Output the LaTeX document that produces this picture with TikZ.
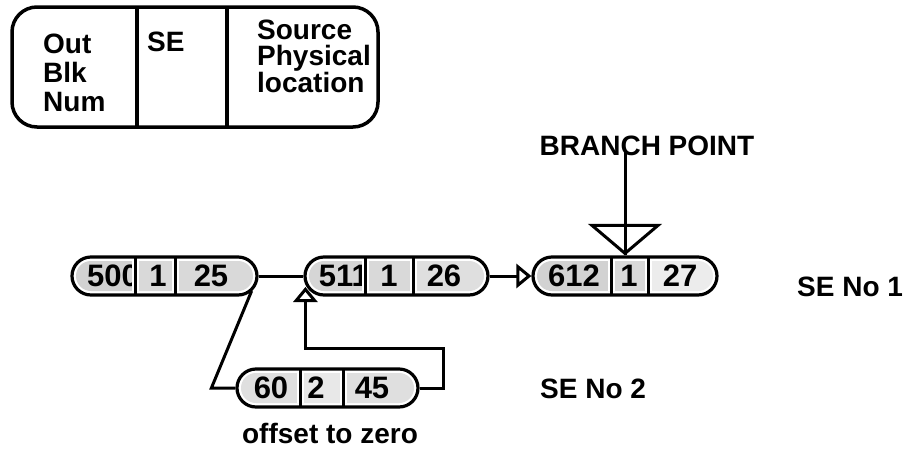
\documentclass[tikz,border=0pt]{standalone}
\usepackage{fontspec}
\setmainfont{Liberation Sans}
\usetikzlibrary{arrows.meta,shapes.misc,calc}

% capsule record: name, left x, divider 1, divider 2, right x, centre y, three cell shades
\newcommand\chaincapsule[9]{%
  \node[capsule, minimum width={#5-#2}] (#1) at ({(#2+#5)/2},#6) {};
  \begin{scope}
    \clip[rounded corners=15pt] (#2+4,#6-15) rectangle (#5-4,#6+15);
    \fill[gray!#7] (#2,#6-19) rectangle (#3,#6+19);
    \fill[gray!#8] (#3,#6-19) rectangle (#4,#6+19);
    \fill[gray!#9] (#4,#6-19) rectangle (#5,#6+19);
  \end{scope}}
% cell separator: x, centre y
\newcommand\celldivider[2]{%
  \draw[white, line width=7pt] (#1,#2-15) -- (#1,#2+15);
  \draw[line width=3pt] (#1,#2-19) -- (#1,#2+19);}

\tikzset{
  lbl/.style={font=\bfseries\fontsize{28}{29}\selectfont, inner sep=0pt},
  num/.style={font=\bfseries\fontsize{31}{32}\selectfont, inner sep=0pt},
  capsule/.style={rounded rectangle, draw, line width=3.2pt, fill=white,
                  minimum height=38pt, inner sep=0pt},
  wire/.style={line width=3pt},
  opentip/.style={-{Triangle[open,length=15pt,width=24pt]}},
}

\begin{document}
\begin{tikzpicture}[x=1pt,y=-1pt]
\useasboundingbox (0,0) rectangle (906,448);

% record layout key
\draw[line width=3.5pt, rounded corners=25pt] (12,7) rectangle (378,127);
\draw[line width=3.2pt] (137,7) -- (137,127);
\draw[line width=3.2pt] (227,7) -- (227,127);
\node[lbl, anchor=north west, align=left] (h1) at (43,34) {Out\\Blk\\Num};
\node[lbl, anchor=north west] (h2) at (147,32) {SE};
\node[lbl, anchor=north west, align=left, font=\bfseries\fontsize{28}{26}\selectfont]
  (h3) at (257,20) {Source\\Physical\\location};

% records
\chaincapsule{A}{72}{135}{175}{257}{276}{35}{30}{30}
\node[num, anchor=east] (a1) at (139,276) {500};
\node[num] (a2) at (158,276) {1};
\node[num] (a3) at (211,276) {25};
\celldivider{135}{276}\celldivider{175}{276}

\chaincapsule{B}{305}{365}{413}{488}{276}{32}{30}{25}
\node[num, anchor=east] (b1) at (369,276) {511};
\node[num] (b2) at (389,276) {1};
\node[num] (b3) at (444,276) {26};
\celldivider{365}{276}\celldivider{413}{276}

\chaincapsule{C}{533}{611}{648}{717}{276}{35}{30}{15}
\node[num] (c1) at (574,276) {612};
\node[num] (c2) at (629,276) {1};
\node[num] (c3) at (680,276) {27};
\celldivider{611}{276}\celldivider{648}{276}

\chaincapsule{D}{237}{300}{343}{418}{388}{25}{18}{25}
\node[num] (d1) at (271,388) {60};
\node[num] (d2) at (316,388) {2};
\node[num] (d3) at (372,388) {45};
\celldivider{300}{388}\celldivider{343}{388}

% links
\draw[wire] (A.east) -- (B.west);
\draw[wire, opentip] (B.east) -- (C.west);
\coordinate (Aout) at ($(A.east)+(-7,15)$);
\draw[wire, line join=miter] (Aout) -- ($(D.west)+(-24,0)$) -- (D.west);
\coordinate (Bin) at ($(B.west)+(2,11)$);
\draw[wire, opentip, line join=miter] (D.east) -- ++(24,0) -- ++(0,-40) -| (Bin);

% branch point
\node[lbl, anchor=base] (bp) at (647,155) {BRANCH POINT};
\coordinate (bptop) at (625,150);
\draw[wire] (bptop) -- (bptop |- C.north);
\draw[wire, line join=miter] (bptop |- C.north) ++(0,-2) -- ++(-33,-28) -- ++(66,0) -- cycle;

% labels
\node[lbl, anchor=base west] (se1) at (797,296) {SE No 1};
\node[lbl, anchor=base west] (se2) at (540,398) {SE No 2};
\node[lbl, anchor=base] (off) at (330,443) {offset to zero};
\end{tikzpicture}
\end{document}
